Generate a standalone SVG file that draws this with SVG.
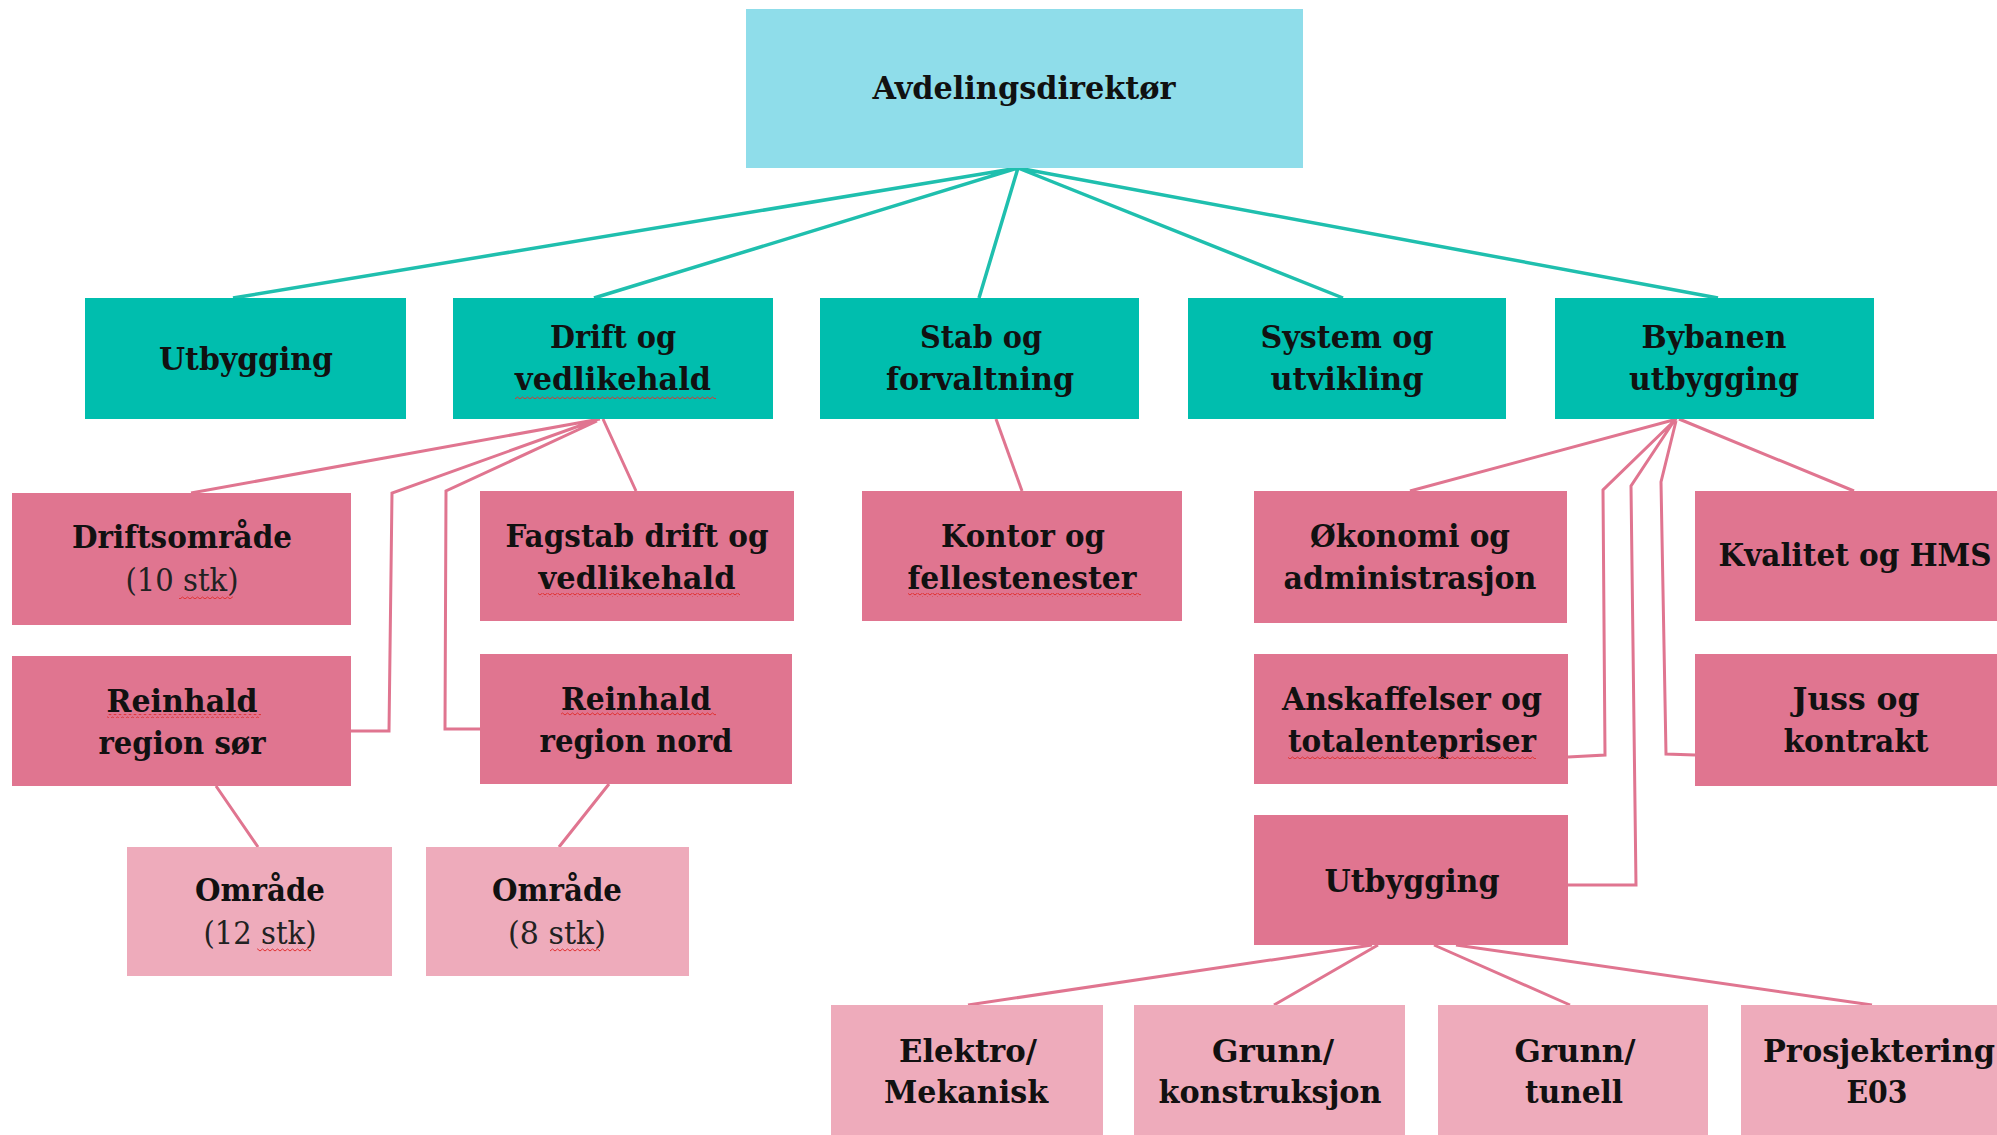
<svg xmlns="http://www.w3.org/2000/svg" width="1997" height="1135" viewBox="0 0 1997 1135">
<style>
.top{fill:#8FDDEA}
.l2{fill:#00BEAE}
.l3{fill:#E07590}
.l4{fill:#EEABBB}
.ct{fill:none;stroke:#1FBFAE;stroke-width:3.5}
.cp{fill:none;stroke:#E07590;stroke-width:3}
text{font-family:"DejaVu Serif Condensed","DejaVu Serif",serif;font-weight:bold;font-size:32px;fill:#111;text-anchor:middle}
text.lt{font-weight:normal;fill:#222}
.sq{fill:url(#wavy)}
</style>
<defs>
<pattern id="wavy" patternUnits="userSpaceOnUse" width="5" height="4">
<polyline points="0,3 2.5,1 5,3" fill="none" stroke="#E03030" stroke-width="1"/>
</pattern>
</defs>
<rect width="1997" height="1135" fill="#fff"/>
<g id="connectors">
<path class="ct" d="M1018,168 L233,298 M1018,168 L594,298 M1018,168 L979,298 M1018,168 L1343,298 M1018,168 L1718,298"/>
<path class="cp" d="M600,419 L191,493 M593,421 L392,493 L389,731 L351,731 M597,421 L446,491 L445,729 L480,729 M603,419 L636,491"/>
<path class="cp" d="M996,419 L1022,491"/>
<path class="cp" d="M216,786 L258,847 M609,784 L559,847"/>
<path class="cp" d="M1677,419 L1410,491 M1674,421 L1603,490 L1605,755 L1568,757 M1674,421 L1631,486 L1636,885 L1568,885 M1676,421 L1661,482 L1666,754 L1695,755 M1679,419 L1854,491"/>
<path class="cp" d="M1372,945 L968,1005 M1378,945 L1274,1005 M1434,945 L1570,1005 M1456,945 L1872,1005"/>
</g>
<g id="n-top"><rect class="top" x="746" y="9" width="557" height="159"/>
<text x="1024" y="99" textLength="303" lengthAdjust="spacingAndGlyphs">Avdelingsdirektør</text></g>
<g id="n-utbygging"><rect class="l2" x="85" y="298" width="321" height="121"/>
<text x="246" y="370" textLength="174" lengthAdjust="spacingAndGlyphs">Utbygging</text></g>
<g id="n-drift"><rect class="l2" x="453" y="298" width="320" height="121"/>
<text x="613" y="348" textLength="126" lengthAdjust="spacingAndGlyphs">Drift og</text>
<text x="613" y="390" textLength="196" lengthAdjust="spacingAndGlyphs">vedlikehald</text>
<rect class="sq" x="515" y="395" width="201" height="4"/></g>
<g id="n-stab"><rect class="l2" x="820" y="298" width="319" height="121"/>
<text x="981" y="348" textLength="122" lengthAdjust="spacingAndGlyphs">Stab og</text>
<text x="980" y="390" textLength="188" lengthAdjust="spacingAndGlyphs">forvaltning</text></g>
<g id="n-system"><rect class="l2" x="1188" y="298" width="318" height="121"/>
<text x="1347" y="348" textLength="173" lengthAdjust="spacingAndGlyphs">System og</text>
<text x="1347" y="390" textLength="153" lengthAdjust="spacingAndGlyphs">utvikling</text></g>
<g id="n-bybanen"><rect class="l2" x="1555" y="298" width="319" height="121"/>
<text x="1714" y="348" textLength="145" lengthAdjust="spacingAndGlyphs">Bybanen</text>
<text x="1714" y="390" textLength="170" lengthAdjust="spacingAndGlyphs">utbygging</text></g>
<g id="n-driftsomrade"><rect class="l3" x="12" y="493" width="339" height="132"/>
<text x="182" y="548" textLength="220" lengthAdjust="spacingAndGlyphs">Driftsområde</text>
<text class="lt" x="182" y="591" textLength="113" lengthAdjust="spacingAndGlyphs">(10 stk)</text>
<rect class="sq" x="179" y="595" width="54" height="4"/></g>
<g id="n-fagstab"><rect class="l3" x="480" y="491" width="314" height="130"/>
<text x="637" y="547" textLength="263" lengthAdjust="spacingAndGlyphs">Fagstab drift og</text>
<text x="637" y="589" textLength="197" lengthAdjust="spacingAndGlyphs">vedlikehald</text>
<rect class="sq" x="538" y="593" width="202" height="4"/></g>
<g id="n-kontor"><rect class="l3" x="862" y="491" width="320" height="130"/>
<text x="1023" y="547" textLength="164" lengthAdjust="spacingAndGlyphs">Kontor og</text>
<text x="1022" y="589" textLength="229" lengthAdjust="spacingAndGlyphs">fellestenester</text>
<rect class="sq" x="908" y="593" width="233" height="4"/></g>
<g id="n-okonomi"><rect class="l3" x="1254" y="491" width="313" height="132"/>
<text x="1410" y="547" textLength="200" lengthAdjust="spacingAndGlyphs">Økonomi og</text>
<text x="1410" y="589" textLength="253" lengthAdjust="spacingAndGlyphs">administrasjon</text></g>
<g id="n-kvalitet"><rect class="l3" x="1695" y="491" width="302" height="130"/>
<text x="1855" y="566" textLength="273" lengthAdjust="spacingAndGlyphs">Kvalitet og HMS</text></g>
<g id="n-reinhald-sor"><rect class="l3" x="12" y="656" width="339" height="130"/>
<text x="182" y="712" textLength="151" lengthAdjust="spacingAndGlyphs">Reinhald</text>
<text x="182" y="754" textLength="167" lengthAdjust="spacingAndGlyphs">region sør</text>
<rect class="sq" x="107" y="714" width="154" height="4"/></g>
<g id="n-reinhald-nord"><rect class="l3" x="480" y="654" width="312" height="130"/>
<text x="636" y="710" textLength="150" lengthAdjust="spacingAndGlyphs">Reinhald</text>
<text x="636" y="752" textLength="193" lengthAdjust="spacingAndGlyphs">region nord</text>
<rect class="sq" x="561" y="712" width="155" height="4"/></g>
<g id="n-anskaffelser"><rect class="l3" x="1254" y="654" width="314" height="130"/>
<text x="1412" y="710" textLength="260" lengthAdjust="spacingAndGlyphs">Anskaffelser og</text>
<text x="1412" y="752" textLength="248" lengthAdjust="spacingAndGlyphs">totalentepriser</text>
<rect class="sq" x="1288" y="755" width="248" height="4"/></g>
<g id="n-juss"><rect class="l3" x="1695" y="654" width="302" height="132"/>
<text x="1856" y="710" textLength="127" lengthAdjust="spacingAndGlyphs">Juss og</text>
<text x="1856" y="752" textLength="145" lengthAdjust="spacingAndGlyphs">kontrakt</text></g>
<g id="n-utbygging2"><rect class="l3" x="1254" y="815" width="314" height="130"/>
<text x="1412" y="892" textLength="175" lengthAdjust="spacingAndGlyphs">Utbygging</text></g>
<g id="n-omrade12"><rect class="l4" x="127" y="847" width="265" height="129"/>
<text x="260" y="901" textLength="130" lengthAdjust="spacingAndGlyphs">Område</text>
<text class="lt" x="260" y="944" textLength="113" lengthAdjust="spacingAndGlyphs">(12 stk)</text>
<rect class="sq" x="257" y="948" width="54" height="4"/></g>
<g id="n-omrade8"><rect class="l4" x="426" y="847" width="263" height="129"/>
<text x="557" y="901" textLength="130" lengthAdjust="spacingAndGlyphs">Område</text>
<text class="lt" x="557" y="944" textLength="98" lengthAdjust="spacingAndGlyphs">(8 stk)</text>
<rect class="sq" x="550" y="948" width="50" height="4"/></g>
<g id="n-elektro"><rect class="l4" x="831" y="1005" width="272" height="130"/>
<text x="968" y="1062" textLength="138" lengthAdjust="spacingAndGlyphs">Elektro/</text>
<text x="966" y="1103" textLength="164" lengthAdjust="spacingAndGlyphs">Mekanisk</text></g>
<g id="n-grunn-konstruksjon"><rect class="l4" x="1134" y="1005" width="271" height="130"/>
<text x="1273" y="1062" textLength="122" lengthAdjust="spacingAndGlyphs">Grunn/</text>
<text x="1270" y="1103" textLength="223" lengthAdjust="spacingAndGlyphs">konstruksjon</text></g>
<g id="n-grunn-tunell"><rect class="l4" x="1438" y="1005" width="270" height="130"/>
<text x="1575" y="1062" textLength="121" lengthAdjust="spacingAndGlyphs">Grunn/</text>
<text x="1574" y="1103" textLength="98" lengthAdjust="spacingAndGlyphs">tunell</text></g>
<g id="n-prosjektering"><rect class="l4" x="1741" y="1005" width="256" height="130"/>
<text x="1879" y="1062" textLength="232" lengthAdjust="spacingAndGlyphs">Prosjektering</text>
<text x="1877" y="1103" textLength="61" lengthAdjust="spacingAndGlyphs">E03</text></g>
</svg>
